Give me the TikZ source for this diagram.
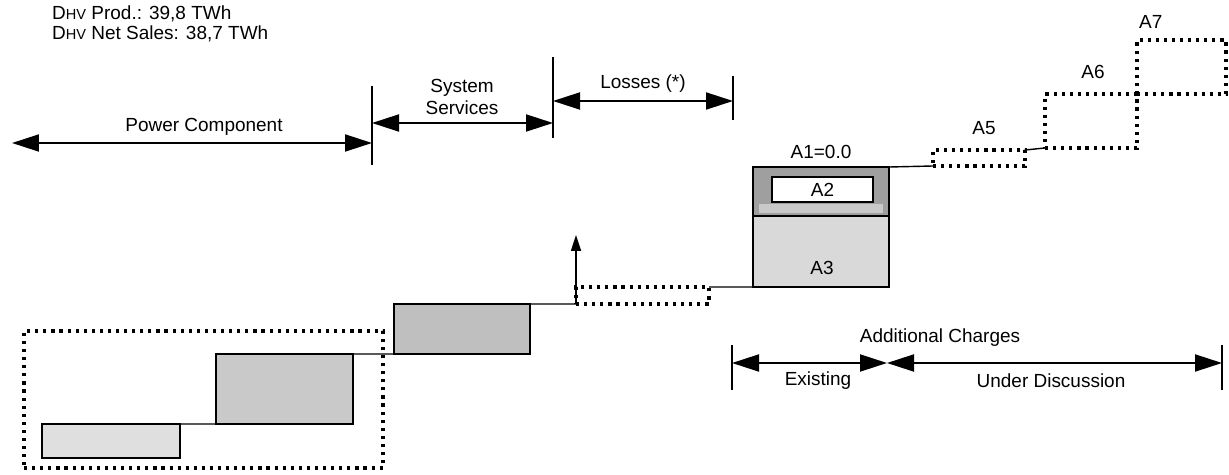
\documentclass[tikz,border=0pt]{standalone}
\usepackage{fontspec}
\setmainfont{Liberation Sans}
\usetikzlibrary{positioning, arrows.meta}

\newcommand{\dhv}{D{\fontsize{8.3}{8}\selectfont HV}}

\begin{document}
\begin{tikzpicture}[x=0.02cm, y=-0.02cm,
        every node/.style={font=\fontsize{10.8}{12.5}\selectfont},
        bar/.style={draw, line width=0.9pt, rectangle, inner sep=0pt, outer sep=0pt},
        part/.style={rectangle, inner sep=0pt, outer sep=0pt},
        dotbox/.style={draw, rectangle, inner sep=0pt, outer sep=0pt, line width=2pt, dash pattern=on 1.8pt off 2.8pt},
        dim/.style={{Triangle[length=0.54cm, width=0.34cm]}-{Triangle[length=0.54cm, width=0.34cm]}, line width=1.1pt},
        tick/.style={line width=1.1pt},
        link/.style={line width=0.8pt},
        uparrow/.style={-{Triangle[length=0.32cm, width=0.2cm]}, line width=1pt}
    ]
    \useasboundingbox (0,0) rectangle (1229,475);

    % header
    \node[anchor=west, align=left, font=\fontsize{10.8}{11.4}\selectfont] (hdr) at (46,24) {\dhv{} Prod.: 39,8 TWh\\\dhv{} Net Sales: 38,7 TWh};

    % power component steps
    \node[bar, fill=gray!25, minimum width=2.76cm, minimum height=0.68cm] (bar1) at (111,441) {};
    \node[bar, fill=gray!42, minimum width=2.74cm, minimum height=1.40cm] (bar2) at (284.5,389) {};
    \node[bar, fill=gray!50, minimum width=2.72cm, minimum height=1.00cm] (bar3) at (462,329) {};
    \node[dotbox, minimum width=7.18cm, minimum height=2.74cm] (pcbox) at (203.5,399.5) {};
    \node[dotbox, minimum width=2.66cm, minimum height=0.34cm] (loss) at (642.5,295.5) {};
    \coordinate (lossup) at (576,235);

    % additional charges block
    \node[part, fill=gray!75, minimum width=2.72cm, minimum height=0.98cm] (atop) at (821,191.5) {};
    \node[part, fill=gray!42, minimum width=2.48cm, minimum height=0.18cm] (astrip) at (821,208.5) {};
    \node[part, fill=gray!30, minimum width=2.72cm, minimum height=1.42cm] (abot) at (821,251.5) {};
    \node[bar, minimum width=2.72cm, minimum height=2.40cm] (abox) at (821,227) {};
    \node[bar, fill=white, minimum width=2.02cm, minimum height=0.50cm] (a2) at (822.5,189.5) {A2};
    \node (a3) at (822,268) {A3};
    \node[above=1pt of abox] (a1) {A1=0.0};
    \draw[link] (atop.south west) -- (atop.south east);

    \node[dotbox, minimum width=1.84cm, minimum height=0.32cm] (a5) at (979,158) {};
    \node[dotbox, minimum width=1.84cm, minimum height=1.08cm] (a6) at (1091,121) {};
    \node[dotbox, minimum width=1.78cm, minimum height=1.08cm] (a7) at (1181.5,67) {};
    \node (a5lbl) at (984,128) {A5};
    \node (a6lbl) at (1093,72) {A6};
    \node[anchor=west] (a7lbl) at (1133,22) {A7};

    \draw[link] (bar1.north east) -- (bar2.south west);
    \draw[link] (bar2.north east) -- (bar3.south west);
    \draw[link] (bar3.north east) -- (loss.south west);
    \draw[uparrow] (loss.south west) -- (lossup);
    \draw[link] (loss.north east) -- (abox.south west);
    \draw[link] (abox.north east) -- (a5.south west);
    \draw[link] (a5.north east) -- (a6.south west);

    % dimension lines
    \coordinate (pcL) at (12,143);
    \coordinate (pcR) at (372,143);
    \coordinate (ssL) at (372,123);
    \coordinate (ssR) at (553,123);
    \coordinate (lsL) at (553,101);
    \coordinate (lsR) at (733,101);
    \coordinate (acL) at (732,363);
    \coordinate (acM) at (887,363);
    \coordinate (acR) at (1222,363);
    \draw[tick] (372,86) coordinate (t1a) -- (372,165) coordinate (t1b);
    \draw[tick] (553,57) coordinate (t2a) -- (553,138) coordinate (t2b);
    \draw[tick] (733,76) coordinate (t3a) -- (733,120) coordinate (t3b);
    \draw[tick] (732,345) coordinate (t4a) -- (732,390) coordinate (t4b);
    \draw[tick] (1222,345) coordinate (t5a) -- (1222,390) coordinate (t5b);

    \draw[dim] (pcL) -- (pcR);
    \draw[dim] (ssL) -- (ssR);
    \draw[dim] (lsL) -- (lsR);
    \draw[dim] (acL) -- (acM);
    \draw[dim] (acM) -- (acR);

    \node (pclbl) at (204,127) {Power Component};
    \node[align=center] (sslbl) at (462,97) {System\\Services};
    \node (lslbl) at (643,84) {Losses (*)};
    \node (aclbl) at (940,338) {Additional Charges};
    \node (exlbl) at (818,381) {Existing};
    \node (udlbl) at (1051,381) {Under Discussion};
\end{tikzpicture}
\end{document}
